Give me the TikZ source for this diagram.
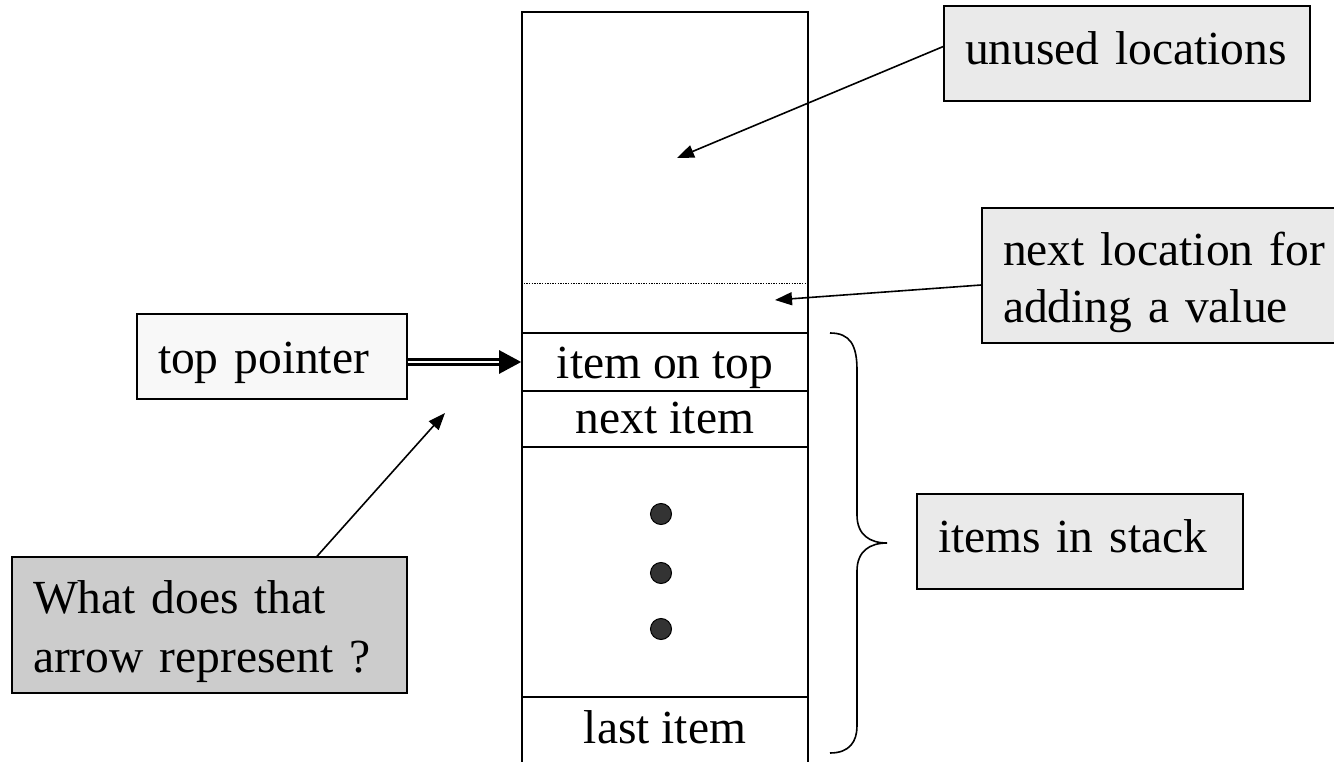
\documentclass[tikz,border=0pt]{standalone}
\usepackage{fontspec}
\setmainfont{Liberation Serif}
\usetikzlibrary{arrows.meta}
\definecolor{boxgray}{HTML}{EAEAEA}
\definecolor{boxlight}{HTML}{F8F8F8}
\definecolor{boxdark}{HTML}{CCCCCC}
\definecolor{dotgray}{HTML}{333333}
\tikzset{
  txt/.style={font=\fontsize{47.5}{57}\selectfont},
  infobox/.style={txt, draw, line width=1.4pt, inner xsep=21pt, inner ysep=0pt, align=left},
  cell/.style={txt, draw, line width=1.6pt, inner sep=0pt, minimum width=286pt, text depth=0pt},
  arr/.style={-{Triangle[length=17pt,width=13pt]}, line width=1.6pt},
  stackdot/.style={circle, draw, line width=1pt, fill=dotgray, minimum size=21pt, inner sep=0pt},
}
\begin{document}
\begin{tikzpicture}[x=1pt,y=-1pt]
\useasboundingbox (0,0) rectangle (1334,762);
% stack cells
\node[cell, minimum height=321pt] (free) at (665,172.5) {};
\node[cell, minimum height=58pt, text height=32pt] (top) at (665,362) {item on top};
\node[cell, minimum height=56pt, text height=28pt] (next) at (665,419) {next item};
\node[cell, minimum height=250pt] (mid) at (665,572) {};
\node[cell, minimum height=69pt, text height=23pt] (last) at (665,731.5) {last item};
\draw[line width=1pt, dash pattern=on 1.4pt off 1.2pt] ([yshift=-111.5pt]free.west) -- ([yshift=-111.5pt]free.east);
% dots
\node[stackdot] (d1) at (661,514) {};
\node[stackdot] (d2) at (661,573) {};
\node[stackdot] (d3) at (661,629) {};
% info boxes
\node[infobox, fill=boxgray, minimum width=366pt, text width=324pt, minimum height=95pt, text height=23pt, text depth=0pt] (unused) at (1127,53.5) {unused locations};
\node[infobox, fill=boxgray, minimum width=380pt, text width=338pt, minimum height=135pt] (nextloc) at (1172,275.5) {\rule{0pt}{46.5pt}next location for\\adding a value};
\node[infobox, fill=boxlight, minimum width=270pt, text width=228pt, minimum height=85pt, text height=33pt, text depth=0pt] (tp) at (272,356.5) {top pointer};
\node[infobox, fill=boxgray, minimum width=326pt, text width=284pt, minimum height=95pt, text height=21pt, text depth=0pt] (items) at (1080,541.5) {items in stack};
\node[infobox, fill=boxdark, font=\fontsize{47.5}{59}\selectfont, minimum width=395pt, text width=353pt, minimum height=136pt] (quest) at (209.5,625) {\rule{0pt}{45.2pt}What does that\\arrow represent ?};
% arrow targets
\coordinate (freetip) at (677,158);
\coordinate (nexttip) at (775,300);
\coordinate (questtip) at (445,413);
% connectors
\draw[arr] ([yshift=7pt]unused.west) -- (freetip);
\draw[arr] ([yshift=-9.5pt]nextloc.west) -- (nexttip);
\draw[arr] ([xshift=107.5pt]quest.north) -- (questtip);
\draw[line width=2.6pt, double, double distance=2.2pt, -{Triangle[length=22pt,width=23pt]}] ([yshift=-5.5pt]tp.east) -- (top.west);
% brace
\coordinate (bt) at (830,333);
\coordinate (bb) at (830,753);
\coordinate (btip) at (887,543);
\draw[line width=1.6pt] (bt) .. controls (850,333) and (857,345) .. (857,370) -- (857,515)
  .. controls (857,535) and (870,543) .. (btip)
  .. controls (870,543) and (857,551) .. (857,571) -- (857,726)
  .. controls (857,741) and (850,753) .. (bb);
\end{tikzpicture}
\end{document}
